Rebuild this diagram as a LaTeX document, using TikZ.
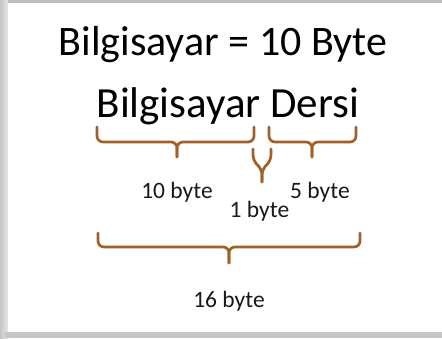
\documentclass[tikz,border=0pt]{standalone}
\usepackage{fontspec}
\setmainfont{Carlito}
\definecolor{bracebrown}{RGB}{160,96,40}
\definecolor{edgegray}{RGB}{190,190,190}
\tikzset{
  bigtext/.style={anchor=base, inner sep=0pt, font=\fontsize{43}{50}\selectfont, text=black},
  smalltext/.style={anchor=base, inner sep=0pt, font=\fontsize{23.5}{27}\selectfont, text=black!90},
  bracepath/.style={draw=bracebrown, line width=2.7pt, rounded corners=6pt, line cap=round}
}
\begin{document}
\begin{tikzpicture}[x=1pt,y=-1pt]
\useasboundingbox (0,0) rectangle (442,338);
% background / frame shadow
\fill[edgegray] (0,0) rectangle (442,338);
\shade[left color=gray!45, right color=gray!20] (0,0) rectangle (8,338);
\fill[gray!45] (5,332) rectangle (442,338);
\fill[white] (8,3) rectangle (442,332);
% texts
\node[bigtext, font=\fontsize{42}{50}\selectfont] (title) at (223,55) {Bilgisayar = 10 Byte};
\node[bigtext] (word) at (228,117) {Bilgisayar Dersi};
\node[smalltext] (l10) at (177,198) {10 byte};
\node[smalltext] (l5) at (320,198) {5 byte};
\node[smalltext] (l1) at (259.5,217) {1 byte};
\node[smalltext] (l16) at (229,307) {16 byte};
% brace 1 (Bilgisayar)
\coordinate (b1l) at (97,127); \coordinate (b1r) at (254,127); \coordinate (b1t) at (177,157);
\draw[bracepath] (b1l) -- (b1l |- 0,142) -- (b1t |- 0,142) -- (b1t);
\draw[bracepath] (b1r) -- (b1r |- 0,142) -- (b1t |- 0,142) -- (b1t);
% brace 2 (space)
\coordinate (b2l) at (253,149); \coordinate (b2r) at (271,149); \coordinate (b2t) at (262,182);
\draw[bracepath, rounded corners=5pt] (b2l) -- (253,160) -- (262,170) -- (b2t);
\draw[bracepath, rounded corners=5pt] (b2r) -- (271,160) -- (262,170) -- (b2t);
% brace 3 (Dersi)
\coordinate (b3l) at (269,127); \coordinate (b3r) at (356,127); \coordinate (b3t) at (312,157);
\draw[bracepath] (b3l) -- (b3l |- 0,142) -- (b3t |- 0,142) -- (b3t);
\draw[bracepath] (b3r) -- (b3r |- 0,142) -- (b3t |- 0,142) -- (b3t);
% brace 4 (whole)
\coordinate (b4l) at (98,233); \coordinate (b4r) at (360,233); \coordinate (b4t) at (229,263);
\draw[bracepath] (b4l) -- (b4l |- 0,247) -- (b4t |- 0,247) -- (b4t);
\draw[bracepath] (b4r) -- (b4r |- 0,247) -- (b4t |- 0,247) -- (b4t);
\end{tikzpicture}
\end{document}
